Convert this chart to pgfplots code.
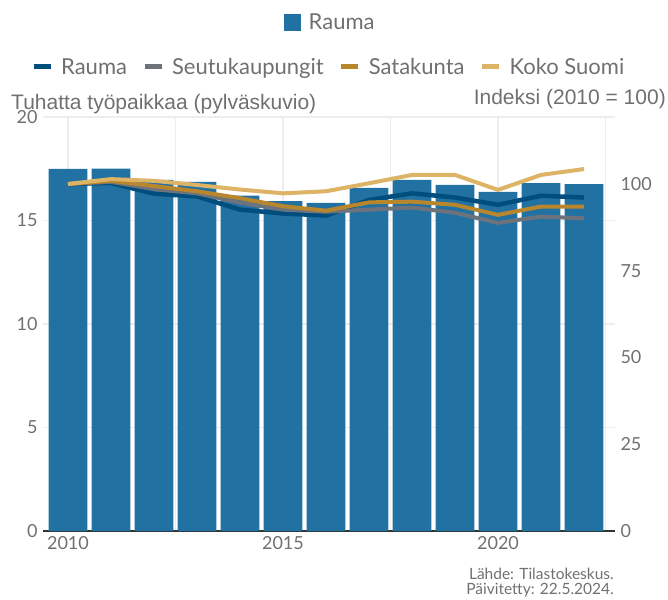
\documentclass[border=0pt]{standalone}
\usepackage{pgfplots}
\pgfplotsset{compat=1.18}
\usepackage{fontspec}
\setmainfont{Lato}
\newfontfamily\arialfont{Liberation Sans}
\definecolor{txt}{HTML}{707070}
\definecolor{barc}{HTML}{2271A3}
\definecolor{rauma}{HTML}{004E7E}
\definecolor{seutu}{HTML}{6C737C}
\definecolor{sata}{HTML}{B8862C}
\definecolor{koko}{HTML}{DDB366}
\definecolor{gridc}{HTML}{EDEDED}
\definecolor{axc}{HTML}{333333}

\pgfplotstableread{
year jobs
2010 17.49
2011 17.50
2012 16.96
2013 16.86
2014 16.20
2015 15.94
2016 15.85
2017 16.57
2018 16.96
2019 16.72
2020 16.38
2021 16.80
2022 16.76
}\jobs

\pgfplotstableread{
year rauma seutu sata koko
2010 100.0 100.0 100.0 100.0
2011 100.3 100.6 100.9 101.4
2012 97.2 98.5 99.4 100.9
2013 96.4 97.3 97.9 99.7
2014 92.6 94.6 95.9 98.4
2015 91.5 92.6 93.6 97.3
2016 90.9 92.0 92.3 97.9
2017 95.4 92.6 94.7 100.2
2018 97.3 93.2 94.9 102.6
2019 96.1 91.7 94.0 102.6
2020 94.0 88.8 91.1 98.3
2021 96.6 90.6 93.5 102.6
2022 96.1 90.1 93.5 104.3
}\idx

\begin{document}
\begin{tikzpicture}
\useasboundingbox (0pt,0pt) rectangle (668pt,599pt);
\begin{axis}[
  at={(43pt,68pt)}, anchor=south west, scale only axis,
  width=572pt, height=414pt,
  xmin=2009.42, xmax=2022.72, ymin=0, ymax=20,
  axis x line*=bottom, axis y line*=left,
  y axis line style={draw=none},
  x axis line style={draw=axc, line width=1.6pt, -},
  xtick={2010,2015,2020}, minor xtick={2012.5,2017.5,2022.5},
  ytick={0,5,10,15,20},
  xmajorgrids, xminorgrids, ymajorgrids,
  grid style={draw=gridc, line width=1.4pt},
  minor grid style={draw=gridc, line width=1.4pt},
  major tick length=0pt, minor tick length=0pt,
  tick style={draw=none},
  /pgf/number format/assume math mode=true,
  x tick label style={/pgf/number format/1000 sep={}, font=\fontsize{18}{20}\selectfont, text=txt, yshift=-2pt},
  y tick label style={font=\fontsize{18}{20}\selectfont, text=txt, xshift=-2pt},
  ybar, bar width=0.9, bar shift=0pt,
  legend style={at={(0.502,1.229)}, anchor=center, draw=none, fill=none,
    font=\fontsize{22}{24}\selectfont, text=txt,
    /tikz/every odd column/.append style={column sep=6pt}},
  legend image code/.code={\fill[barc] (0pt,-8.5pt) rectangle (17pt,8.5pt);},
]
\addplot[fill=barc, draw=none] table[x=year, y=jobs] {\jobs};
\addlegendentry{Rauma}
\end{axis}
\begin{axis}[
  at={(43pt,68pt)}, anchor=south west, scale only axis,
  width=572pt, height=414pt,
  xmin=2009.42, xmax=2022.72, ymin=0, ymax=119.3,
  axis x line=none, axis y line*=right,
  y axis line style={draw=none},
  ytick={0,25,50,75,100},
  tick style={draw=none}, major tick length=0pt,
  /pgf/number format/assume math mode=true,
  y tick label style={font=\fontsize{18}{20}\selectfont, text=txt, xshift=2pt},
  legend columns=4,
  legend style={at={(0.4995,1.121)}, anchor=center, draw=none, fill=none,
    font=\fontsize{22}{24}\selectfont, text=txt,
    /tikz/every odd column/.append style={column sep=6pt},
    /tikz/every even column/.append style={column sep=13pt}},
  legend image code/.code={\draw[line width=5pt] (0pt,0pt) -- (17pt,0pt);},
]
\addplot[rauma, line width=4.5pt, no marks] table[x=year, y=rauma] {\idx};
\addlegendentry{Rauma}
\addplot[seutu, line width=4pt, no marks] table[x=year, y=seutu] {\idx};
\addlegendentry{Seutukaupungit}
\addplot[sata, line width=4pt, no marks] table[x=year, y=sata] {\idx};
\addlegendentry{Satakunta}
\addplot[koko, line width=4pt, no marks] table[x=year, y=koko] {\idx};
\addlegendentry{Koko Suomi}
\end{axis}
\node[anchor=base west, font=\arialfont\fontsize{21}{24}\selectfont, text=txt, inner sep=0pt] at (11pt,489pt) {Tuhatta työpaikkaa (pylväskuvio)};
\node[anchor=base east, font=\arialfont\fontsize{21}{24}\selectfont, text=txt, inner sep=0pt] at (666pt,494pt) {Indeksi (2010 = 100)};
\node[anchor=base east, font=\fontsize{15.5}{17}\selectfont, text=txt, inner sep=0pt] at (614pt,20pt) {Lähde: Tilastokeskus.};
\node[anchor=base east, font=\fontsize{15.5}{17}\selectfont, text=txt, inner sep=0pt] at (614pt,4.5pt) {Päivitetty: 22.5.2024.};
\end{tikzpicture}
\end{document}
